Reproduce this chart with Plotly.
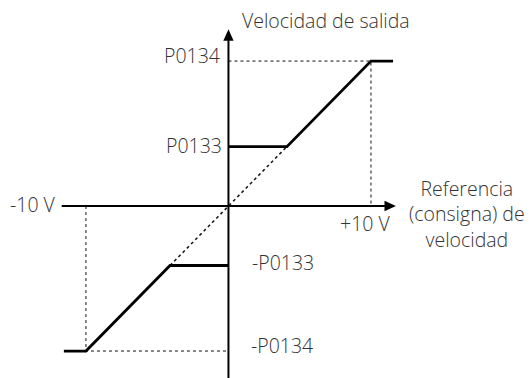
import plotly.graph_objects as go

# characteristic: speed reference (V) -> output speed (same scale units)
ref_pos = [0, 4.1, 10, 11.55]
spd_pos = [4.1, 4.1, 10, 10]
ref_neg = [-11.55, -10, -4.1, 0]
spd_neg = [-10, -10, -4.1, -4.1]
diag_x = [-4.1, 4.1]
diag_y = [-4.1, 4.1]
v_max = 10          # +10 V / -10 V
p0134 = 10          # max speed
p0133 = 4.1         # min speed

INK = "#111111"
TXT = "#333333"
FONT = dict(family="Open Sans", size=19.5, color=TXT, weight=300)

fig = go.Figure()

# dotted guide lines
fig.add_trace(go.Scatter(x=[0, v_max, v_max], y=[p0134, p0134, 0], mode="lines",
                         line=dict(color=INK, width=1, dash="dot"), hoverinfo="skip"))
fig.add_trace(go.Scatter(x=[-v_max, -v_max, 0], y=[0, -p0134, -p0134], mode="lines",
                         line=dict(color=INK, width=1, dash="dot"), hoverinfo="skip"))
fig.add_trace(go.Scatter(x=diag_x, y=diag_y, mode="lines",
                         line=dict(color=INK, width=1.5, dash="dot"), hoverinfo="skip"))

# solid characteristic
fig.add_trace(go.Scatter(x=ref_pos, y=spd_pos, mode="lines",
                         line=dict(color="black", width=2.8), hoverinfo="skip"))
fig.add_trace(go.Scatter(x=ref_neg, y=spd_neg, mode="lines",
                         line=dict(color="black", width=2.8), hoverinfo="skip"))

# axes with arrowheads
x_lo, x_hi = -11.7, 11.75
y_lo, y_hi = -12.5, 12.2
shapes = [
    dict(type="line", x0=x_lo, x1=x_hi - 0.7, y0=0, y1=0, line=dict(color="black", width=2)),
    dict(type="line", x0=0, x1=0, y0=y_lo, y1=y_hi - 0.7, line=dict(color="black", width=2)),
    dict(type="path", path=f"M {x_hi - 0.8} 0.36 L {x_hi} 0 L {x_hi - 0.8} -0.36 Z",
         fillcolor="black", line=dict(width=0)),
    dict(type="path", path=f"M -0.36 {y_hi - 0.8} L 0 {y_hi} L 0.36 {y_hi - 0.8} Z",
         fillcolor="black", line=dict(width=0)),
]

ann = [
    dict(x=0, y=y_hi, text="Velocidad de salida", xanchor="left", yanchor="middle", xshift=13, yshift=9),
    dict(x=0, y=p0134, text="P0134", xanchor="right", yanchor="middle", xshift=-7, yshift=6),
    dict(x=0, y=p0133, text="P0133", xanchor="right", yanchor="middle", xshift=-5, yshift=1),
    dict(x=0, y=-p0133, text="-P0133", xanchor="left", yanchor="middle", xshift=23, yshift=3),
    dict(x=0, y=-p0134, text="-P0134", xanchor="left", yanchor="middle", xshift=22, yshift=6),
    dict(x=x_lo, y=0, text="-10 V", xanchor="right", yanchor="middle", xshift=-5, yshift=2),
    dict(x=v_max, y=0, text="+10 V", xanchor="right", yanchor="middle", xshift=20, yshift=-17),
    dict(x=16.74, y=0, text="Referencia<br>(consigna) de<br>velocidad", xanchor="center",
         yanchor="middle", align="center", yshift=-8),
]
for a in ann:
    a.update(xref="x", yref="y", showarrow=False, font=FONT, borderpad=0)

# the page adds an 8 px body margin, so the figure is 8 px smaller and the
# ranges are set so the origin lands at (228.5, 206) in the window
fig.update_layout(
    width=524, height=370,
    margin=dict(l=0, r=0, t=0, b=0),
    paper_bgcolor="white", plot_bgcolor="white",
    showlegend=False,
    shapes=shapes, annotations=ann,
    xaxis=dict(range=[-15.47, 21.30], visible=False, fixedrange=True),
    yaxis=dict(range=[-11.86, 13.66], visible=False, fixedrange=True),
)

fig.write_html("out.html")
